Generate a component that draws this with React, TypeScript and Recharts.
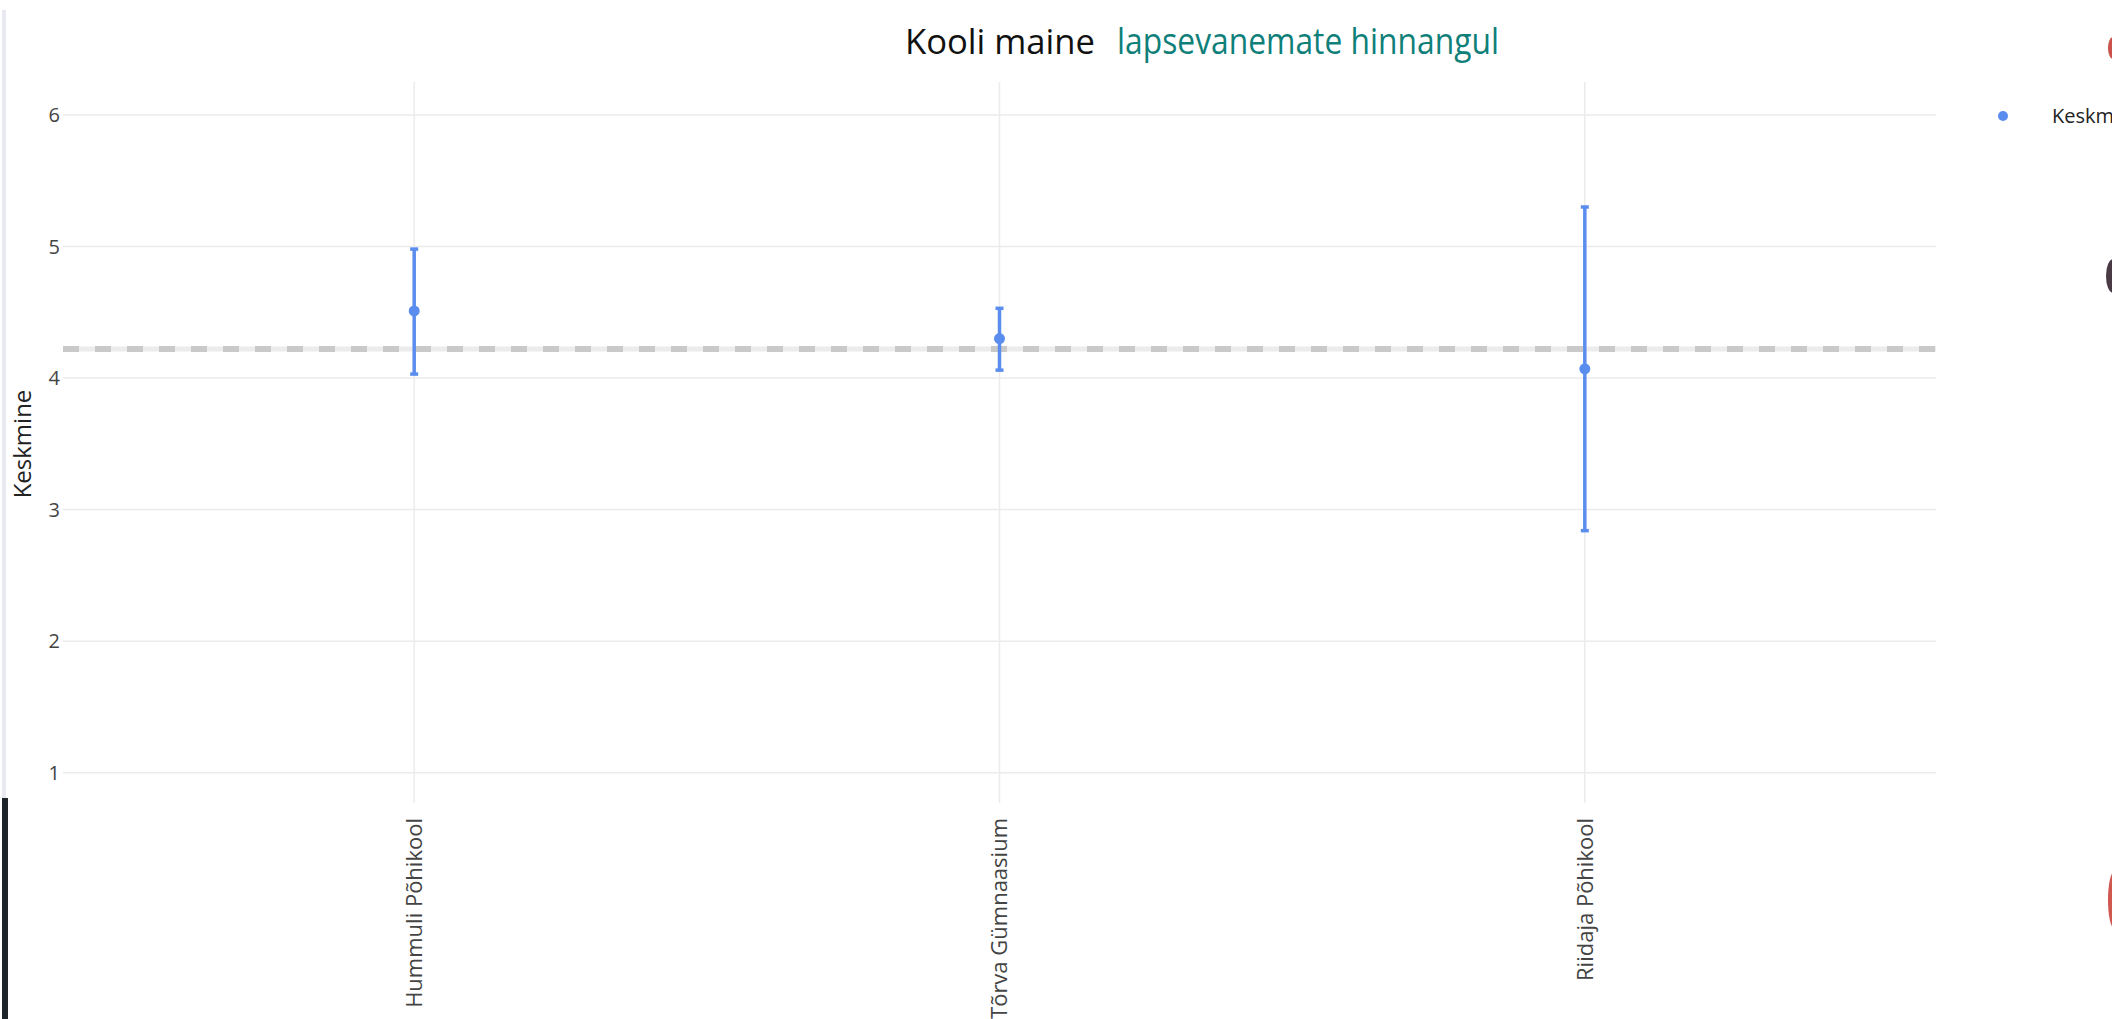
import React from 'react';
import { ScatterChart, Scatter, XAxis, YAxis, ReferenceLine, ErrorBar } from 'recharts';

const schools = ['Hummuli Põhikool', 'Tõrva Gümnaasium', 'Riidaja Põhikool'];
const means = [4.51, 4.3, 4.07];
const lower = [4.03, 4.06, 2.84];
const upper = [4.98, 4.53, 5.3];
const overallMean = 4.22;
const yTicks = [1, 2, 3, 4, 5, 6];
const xTicks = [0, 1, 2];

const BLUE = '#5b8def';
const GRID = '#ebebeb';
const FONT = '"Open Sans", "Noto Sans", sans-serif';

const data = schools.map((s, i) => ({
  x: i,
  y: means[i],
  err: [means[i] - lower[i], upper[i] - means[i]],
}));

const SchoolTick = (props: any) => {
  const { x, y, payload } = props;
  return (
    <text
      x={x}
      y={y}
      transform={`rotate(-90, ${x}, ${y})`}
      textAnchor="end"
      dy="0.35em"
      fontSize={22}
      fontFamily={FONT}
      fill="#444"
    >
      {schools[payload.value]}
    </text>
  );
};

const Dot = (props: any) => <circle cx={props.cx} cy={props.cy} r={5.5} fill={BLUE} />;

export default function App() {
  return (
    <div style={{ position: 'absolute', left: 0, top: 0, width: 2112, height: 1019, overflow: 'hidden', background: '#fff' }}>
      <ScatterChart width={2112} height={1019} margin={{ top: 82, right: 176, bottom: 0, left: 0 }}>
        <XAxis
          type="number"
          dataKey="x"
          domain={[-0.6, 2.6]}
          ticks={xTicks}
          height={216}
          axisLine={false}
          tickLine={false}
          tickSize={0}
          tickMargin={15}
          tick={<SchoolTick />}
          interval={0}
        />
        <YAxis
          type="number"
          dataKey="y"
          domain={[0.77, 6.25]}
          ticks={yTicks}
          allowDataOverflow
          width={63}
          axisLine={false}
          tickLine={false}
          tickSize={0}
          tickMargin={3}
          tick={{ fontSize: 20, fill: '#444', fontFamily: FONT }}
        />
        {yTicks.map((t) => (
          <ReferenceLine key={`h${t}`} y={t} stroke={GRID} strokeWidth={1.5} />
        ))}
        {xTicks.map((t) => (
          <ReferenceLine key={`v${t}`} x={t} stroke={GRID} strokeWidth={1.5} />
        ))}
        <ReferenceLine y={overallMean} stroke="#ececec" strokeWidth={5} />
        <ReferenceLine y={overallMean} stroke="#c9c9c9" strokeWidth={6} strokeDasharray="16 16" />
        <Scatter data={data} fill={BLUE} shape={<Dot />} isAnimationActive={false}>
          <ErrorBar dataKey="err" direction="y" width={4} stroke={BLUE} strokeWidth={3.5} />
        </Scatter>
      </ScatterChart>

      <svg width={2112} height={1019} style={{ position: 'absolute', left: 0, top: 0, pointerEvents: 'none' }}>
        {/* title */}
        <text x={905} y={54} fontSize={35} fontFamily={FONT} fill="#111" textLength={190} lengthAdjust="spacingAndGlyphs">
          Kooli maine
        </text>
        <text x={1117} y={54} fontSize={36} fontFamily={FONT} fill="#0f8079" textLength={382} lengthAdjust="spacingAndGlyphs">
          lapsevanemate hinnangul
        </text>
        {/* y axis title */}
        <text
          x={23}
          y={444}
          transform="rotate(-90, 23, 444)"
          textAnchor="middle"
          dy="0.35em"
          fontSize={24}
          fontFamily={FONT}
          fill="#222"
        >
          Keskmine
        </text>
        {/* legend */}
        <circle cx={2003} cy={116} r={5} fill={BLUE} />
        <text x={2052} y={123} fontSize={20} fontFamily={FONT} fill="#222">
          Keskmine
        </text>
        {/* screenshot edges */}
        <rect x={2} y={10} width={4} height={788} fill="#e9e9f1" />
        <rect x={2} y={798} width={6} height={221} fill="#1f2429" />
        <ellipse cx={2113} cy={48} rx={5} ry={11} fill="#c9534a" />
        <ellipse cx={2113} cy={276} rx={7} ry={17} fill="#4a3a45" />
        <ellipse cx={2114} cy={900} rx={6} ry={28} fill="#d0574f" />
      </svg>
    </div>
  );
}
